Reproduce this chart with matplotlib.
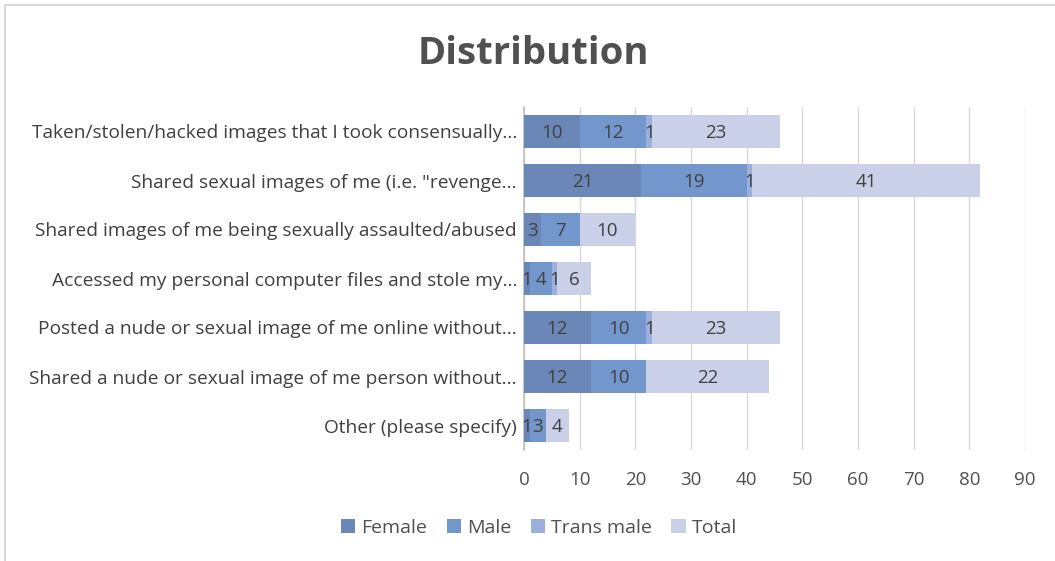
import matplotlib
matplotlib.use("Agg")
import matplotlib.pyplot as plt
from matplotlib.patches import Rectangle
import numpy as np

categories = [
    "Taken/stolen/hacked images that I took consensually...",
    "Shared sexual images of me (i.e. \"revenge...",
    "Shared images of me being sexually assaulted/abused",
    "Accessed my personal computer files and stole my...",
    "Posted a nude or sexual image of me online without...",
    "Shared a nude or sexual image of me person without...",
    "Other (please specify)",
]
female = [10, 21, 3, 1, 12, 12, 1]
male = [12, 19, 7, 4, 10, 10, 3]
trans_male = [1, 1, 0, 1, 1, 0, 0]
total = [23, 41, 10, 6, 23, 22, 4]
series_names = ["Female", "Male", "Trans male", "Total"]
colors = ["#6a87b8", "#7397cd", "#9bafdd", "#cbd0e9"]
xticks = list(range(0, 100, 10))

plt.rcParams['font.family'] = ['Open Sans', 'DejaVu Sans']

fig = plt.figure(figsize=(10.55, 5.61), dpi=100)
fig.patches.append(Rectangle((5/1055, -0.1), 1.2, 1 - 5/561 + 0.1, transform=fig.transFigure,
                             fill=False, edgecolor="#d0d0d0", linewidth=1.2))
ax = fig.add_axes([524/1055, 1 - 450/561, (1025 - 524)/1055, (450 - 107)/561])

y = np.arange(len(categories))
series = [female, male, trans_male, total]
left = np.zeros(len(categories))
h = 0.67
for name, vals, c in zip(series_names, series, colors):
    vals = np.array(vals, dtype=float)
    ax.barh(y, vals, left=left, height=h, color=c, label=name, zorder=3)
    for i, v in enumerate(vals):
        if v > 0:
            ax.text(left[i] + v / 2, y[i] + 0.03, f"{int(v)}", ha="center", va="center",
                    fontsize=13.5, color="#404040", zorder=4)
    left = left + vals

ax.set_ylim(len(categories) - 0.5, -0.5)
ax.set_xlim(0, 90)
ax.set_xticks(xticks)
ax.set_yticks(y)
ax.set_yticklabels(categories, fontsize=13.8, color="#404040")
ax.tick_params(axis="x", labelsize=13.5, labelcolor="#505050", length=0, pad=15)
ax.tick_params(axis="y", length=0, pad=5)
ax.grid(axis="x", color="#d9d9d9", linewidth=1, zorder=0)
for s in ["top", "right", "bottom"]:
    ax.spines[s].set_visible(False)
ax.spines["left"].set_color("#bfbfbf")
ax.spines["left"].set_linewidth(1.2)

fig.text(533/1055, 1 - 54/561, "Distribution", ha="center", va="center",
         fontsize=27.5, fontweight="bold", color="#505050")

handles, labels = ax.get_legend_handles_labels()
fig.legend(handles, labels, loc="center", bbox_to_anchor=(539/1055, 1 - 528/561),
           ncol=4, frameon=False, fontsize=14, handlelength=0.75, handleheight=0.75,
           columnspacing=1.0, handletextpad=0.3, labelcolor="#505050")

fig.savefig("out.png", dpi=100)
